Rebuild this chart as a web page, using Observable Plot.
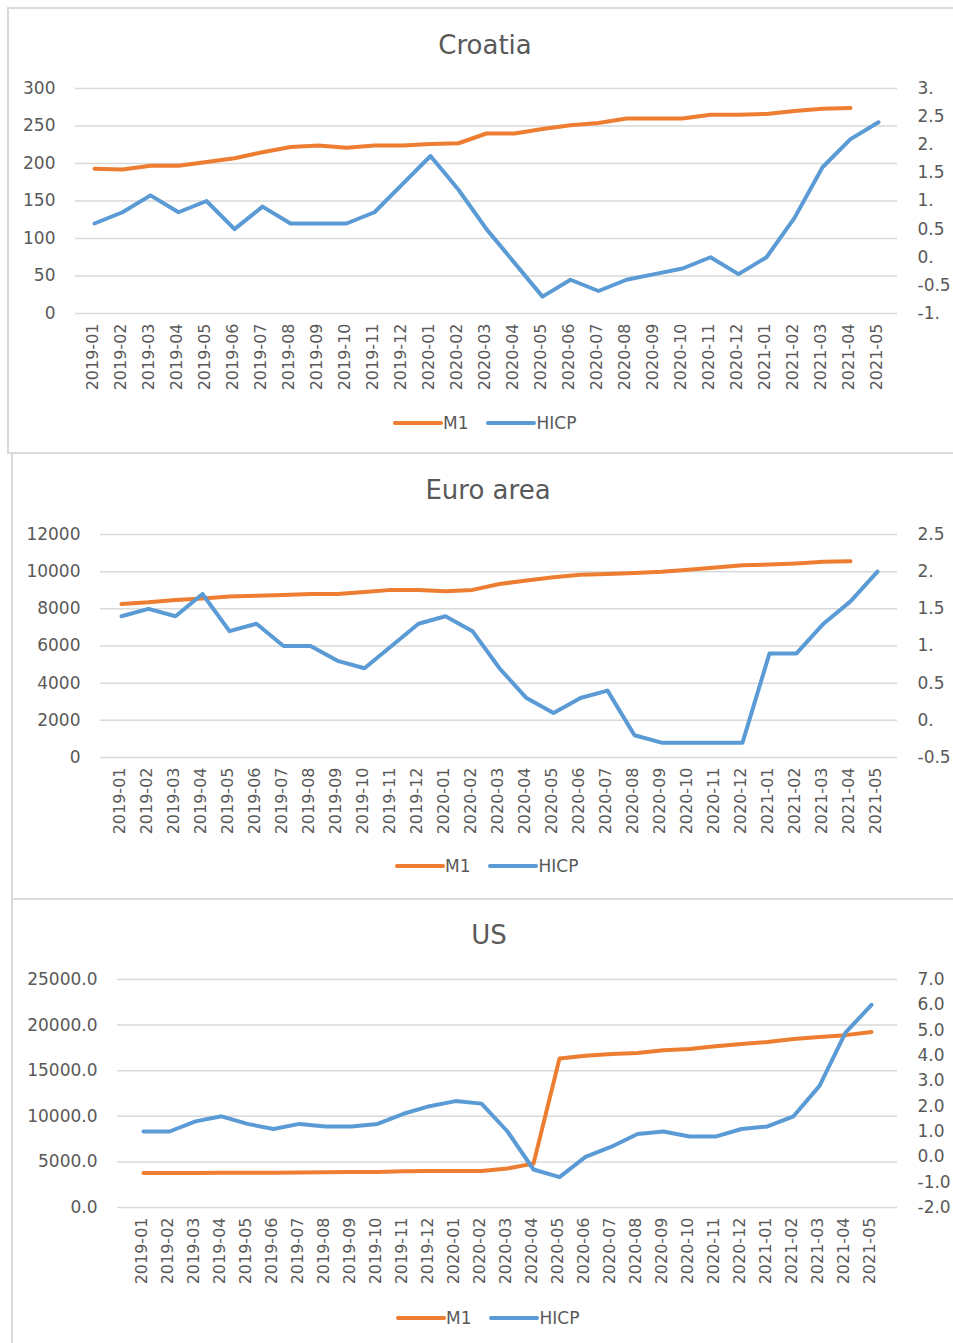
<!DOCTYPE html>
<html><head><meta charset="utf-8">
<script src="https://cdn.jsdelivr.net/npm/d3@7"></script>
<script src="https://cdn.jsdelivr.net/npm/@observablehq/plot@0.6"></script>
<style>
body{margin:0;width:953px;height:1343px;overflow:hidden;background:#fff;position:relative;font-family:"DejaVu Sans",sans-serif;color:#595959}
.ln{position:absolute;background:#d9d9d9}
.title{position:absolute;font-size:26px;transform:translate(-50%,-50%);white-space:nowrap;color:#595959}
.legend{position:absolute;display:flex;align-items:center;font-size:17px;color:#595959;transform:translateY(-50%);white-space:nowrap}
.sw{display:inline-block;width:50px;height:4px;border-radius:2px}
.chart{position:absolute;left:0}
.chart svg{overflow:visible}
</style></head><body>
<script>
// ---- data ----
const months = ["2019-01","2019-02","2019-03","2019-04","2019-05","2019-06","2019-07","2019-08","2019-09","2019-10","2019-11","2019-12",
  "2020-01","2020-02","2020-03","2020-04","2020-05","2020-06","2020-07","2020-08","2020-09","2020-10","2020-11","2020-12",
  "2021-01","2021-02","2021-03","2021-04","2021-05"];

const croatiaM1 = [193,192,197,197,202,207,215,222,224,221,224,224,226,227,240,240,246,251,254,260,260,260,265,265,266,270,273,274,null];
const croatiaHICP = [0.6,0.8,1.1,0.8,1.0,0.5,0.9,0.6,0.6,0.6,0.8,1.3,1.8,1.2,0.5,-0.1,-0.7,-0.4,-0.6,-0.4,-0.3,-0.2,0.0,-0.3,0.0,0.7,1.6,2.1,2.4];

const euroM1 = [8260,8350,8480,8550,8660,8710,8750,8800,8800,8910,9020,9020,8950,9020,9340,9520,9700,9830,9880,9930,9990,10100,10220,10350,10380,10440,10530,10560,null];
const euroHICP = [1.4,1.5,1.4,1.7,1.2,1.3,1.0,1.0,0.8,0.7,1.0,1.3,1.4,1.2,0.7,0.3,0.1,0.3,0.4,-0.2,-0.3,-0.3,-0.3,-0.3,0.9,0.9,1.3,1.6,2.0];

const usM1 = [3790,3790,3790,3800,3800,3810,3850,3870,3880,3900,3970,3990,3990,4000,4280,4810,16330,16650,16820,16950,17250,17380,17680,17930,18150,18480,18700,18900,19250];
const usHICP = [1.0,1.0,1.4,1.6,1.3,1.1,1.3,1.2,1.2,1.3,1.7,2.0,2.2,2.1,1.0,-0.5,-0.8,0.0,0.4,0.9,1.0,0.8,0.8,1.1,1.2,1.6,2.8,4.9,6.0];

const croatiaLeftTicks = [0,50,100,150,200,250,300];
const croatiaLeftLabels = ["0","50","100","150","200","250","300"];
const croatiaRightTicks = [-1,-0.5,0,0.5,1,1.5,2,2.5,3];
const croatiaRightLabels = ["-1.","-0.5","0.","0.5","1.","1.5","2.","2.5","3."];

const euroLeftTicks = [0,2000,4000,6000,8000,10000,12000];
const euroLeftLabels = ["0","2000","4000","6000","8000","10000","12000"];
const euroRightTicks = [-0.5,0,0.5,1,1.5,2,2.5];
const euroRightLabels = ["-0.5","0.","0.5","1.","1.5","2.","2.5"];

const usLeftTicks = [0,5000,10000,15000,20000,25000];
const usLeftLabels = ["0.0","5000.0","10000.0","15000.0","20000.0","25000.0"];
const usRightTicks = [-2,-1,0,1,2,3,4,5,6,7];
const usRightLabels = ["-2.0","-1.0","0.0","1.0","2.0","3.0","4.0","5.0","6.0","7.0"];

const seriesNames = ["M1","HICP"];
const colors = {M1:"#ED7D31", HICP:"#5B9BD5"};

// ---- frame lines ----
function line(x,y,w,h){const d=document.createElement("div");d.className="ln";Object.assign(d.style,{left:x+"px",top:y+"px",width:w+"px",height:h+"px"});document.body.appendChild(d);}
line(7,7,946,2); line(7,7,2,447); line(7,452,946,2);
line(11,452,2,448); line(11,898,942,2); line(11,898,2,445);

function panel(cfg){
  const {title,m1,hicp,lt,ll,rt,rl,svgTop,marginTop,marginBottom,marginLeft,titleX,titleY,legendX,legendY} = cfg;
  const lmin=lt[0], lmax=lt[lt.length-1], rmin=rt[0], rmax=rt[rt.length-1];
  const toLeft = v => lmin + (v - rmin)/(rmax - rmin)*(lmax - lmin);
  const rtL = rt.map(toLeft);
  const data = months.map((m,i)=>({month:m, m1:m1[i], hicp:hicp[i]}));
  const chart = Plot.plot({
    width:953, height:340, marginTop, marginBottom, marginLeft, marginRight:56,
    style:{fontFamily:"DejaVu Sans", color:"#595959", background:"transparent", overflow:"visible"},
    x:{type:"point", domain:months, padding:0.5},
    y:{domain:[lmin,lmax]},
    marks:[
      Plot.ruleY(lt,{stroke:"#d9d9d9", strokeWidth:1.5}),
      Plot.axisY(lt,{anchor:"left", tickSize:0, tickPadding:20, fontSize:17, tickFormat:d=>ll[lt.indexOf(d)], label:null}),
      Plot.axisY(rtL,{anchor:"right", tickSize:0, tickPadding:20, fontSize:17, tickFormat:d=>rl[rtL.indexOf(d)], label:null}),
      Plot.axisX({tickRotate:-90, tickSize:0, tickPadding:10, fontSize:16, dx:-2, label:null}),
      Plot.line(data.filter(d=>d.m1!=null),{x:"month", y:"m1", stroke:colors.M1, strokeWidth:4, strokeLinecap:"round", strokeLinejoin:"round"}),
      Plot.line(data,{x:"month", y:d=>toLeft(d.hicp), stroke:colors.HICP, strokeWidth:4, strokeLinecap:"round", strokeLinejoin:"round"})
    ]
  });
  const wrap=document.createElement("div"); wrap.className="chart"; wrap.style.top=svgTop+"px"; wrap.appendChild(chart); document.body.appendChild(wrap);
  const t=document.createElement("div"); t.className="title"; t.textContent=title; t.style.left=titleX+"px"; t.style.top=titleY+"px"; document.body.appendChild(t);
  const lg=document.createElement("div"); lg.className="legend"; lg.style.left=legendX+"px"; lg.style.top=legendY+"px";
  seriesNames.forEach((s,i)=>{
    const sw=document.createElement("span"); sw.className="sw"; sw.style.background=colors[s]; lg.appendChild(sw);
    const tx=document.createElement("span"); tx.textContent=s; if(i===0) tx.style.marginRight="18px"; lg.appendChild(tx);
  });
  document.body.appendChild(lg);
}

panel({title:"Croatia", m1:croatiaM1, hicp:croatiaHICP, lt:croatiaLeftTicks, ll:croatiaLeftLabels, rt:croatiaRightTicks, rl:croatiaRightLabels,
  svgTop:60, marginTop:28, marginBottom:87, marginLeft:75, titleX:485, titleY:45, legendX:393, legendY:423});
panel({title:"Euro area", m1:euroM1, hicp:euroHICP, lt:euroLeftTicks, ll:euroLeftLabels, rt:euroRightTicks, rl:euroRightLabels,
  svgTop:505, marginTop:29, marginBottom:88, marginLeft:100, titleX:488, titleY:490, legendX:395, legendY:866});
panel({title:"US", m1:usM1, hicp:usHICP, lt:usLeftTicks, ll:usLeftLabels, rt:usRightTicks, rl:usRightLabels,
  svgTop:950, marginTop:29, marginBottom:83, marginLeft:117, titleX:489, titleY:935, legendX:396, legendY:1318});
</script></body></html>
